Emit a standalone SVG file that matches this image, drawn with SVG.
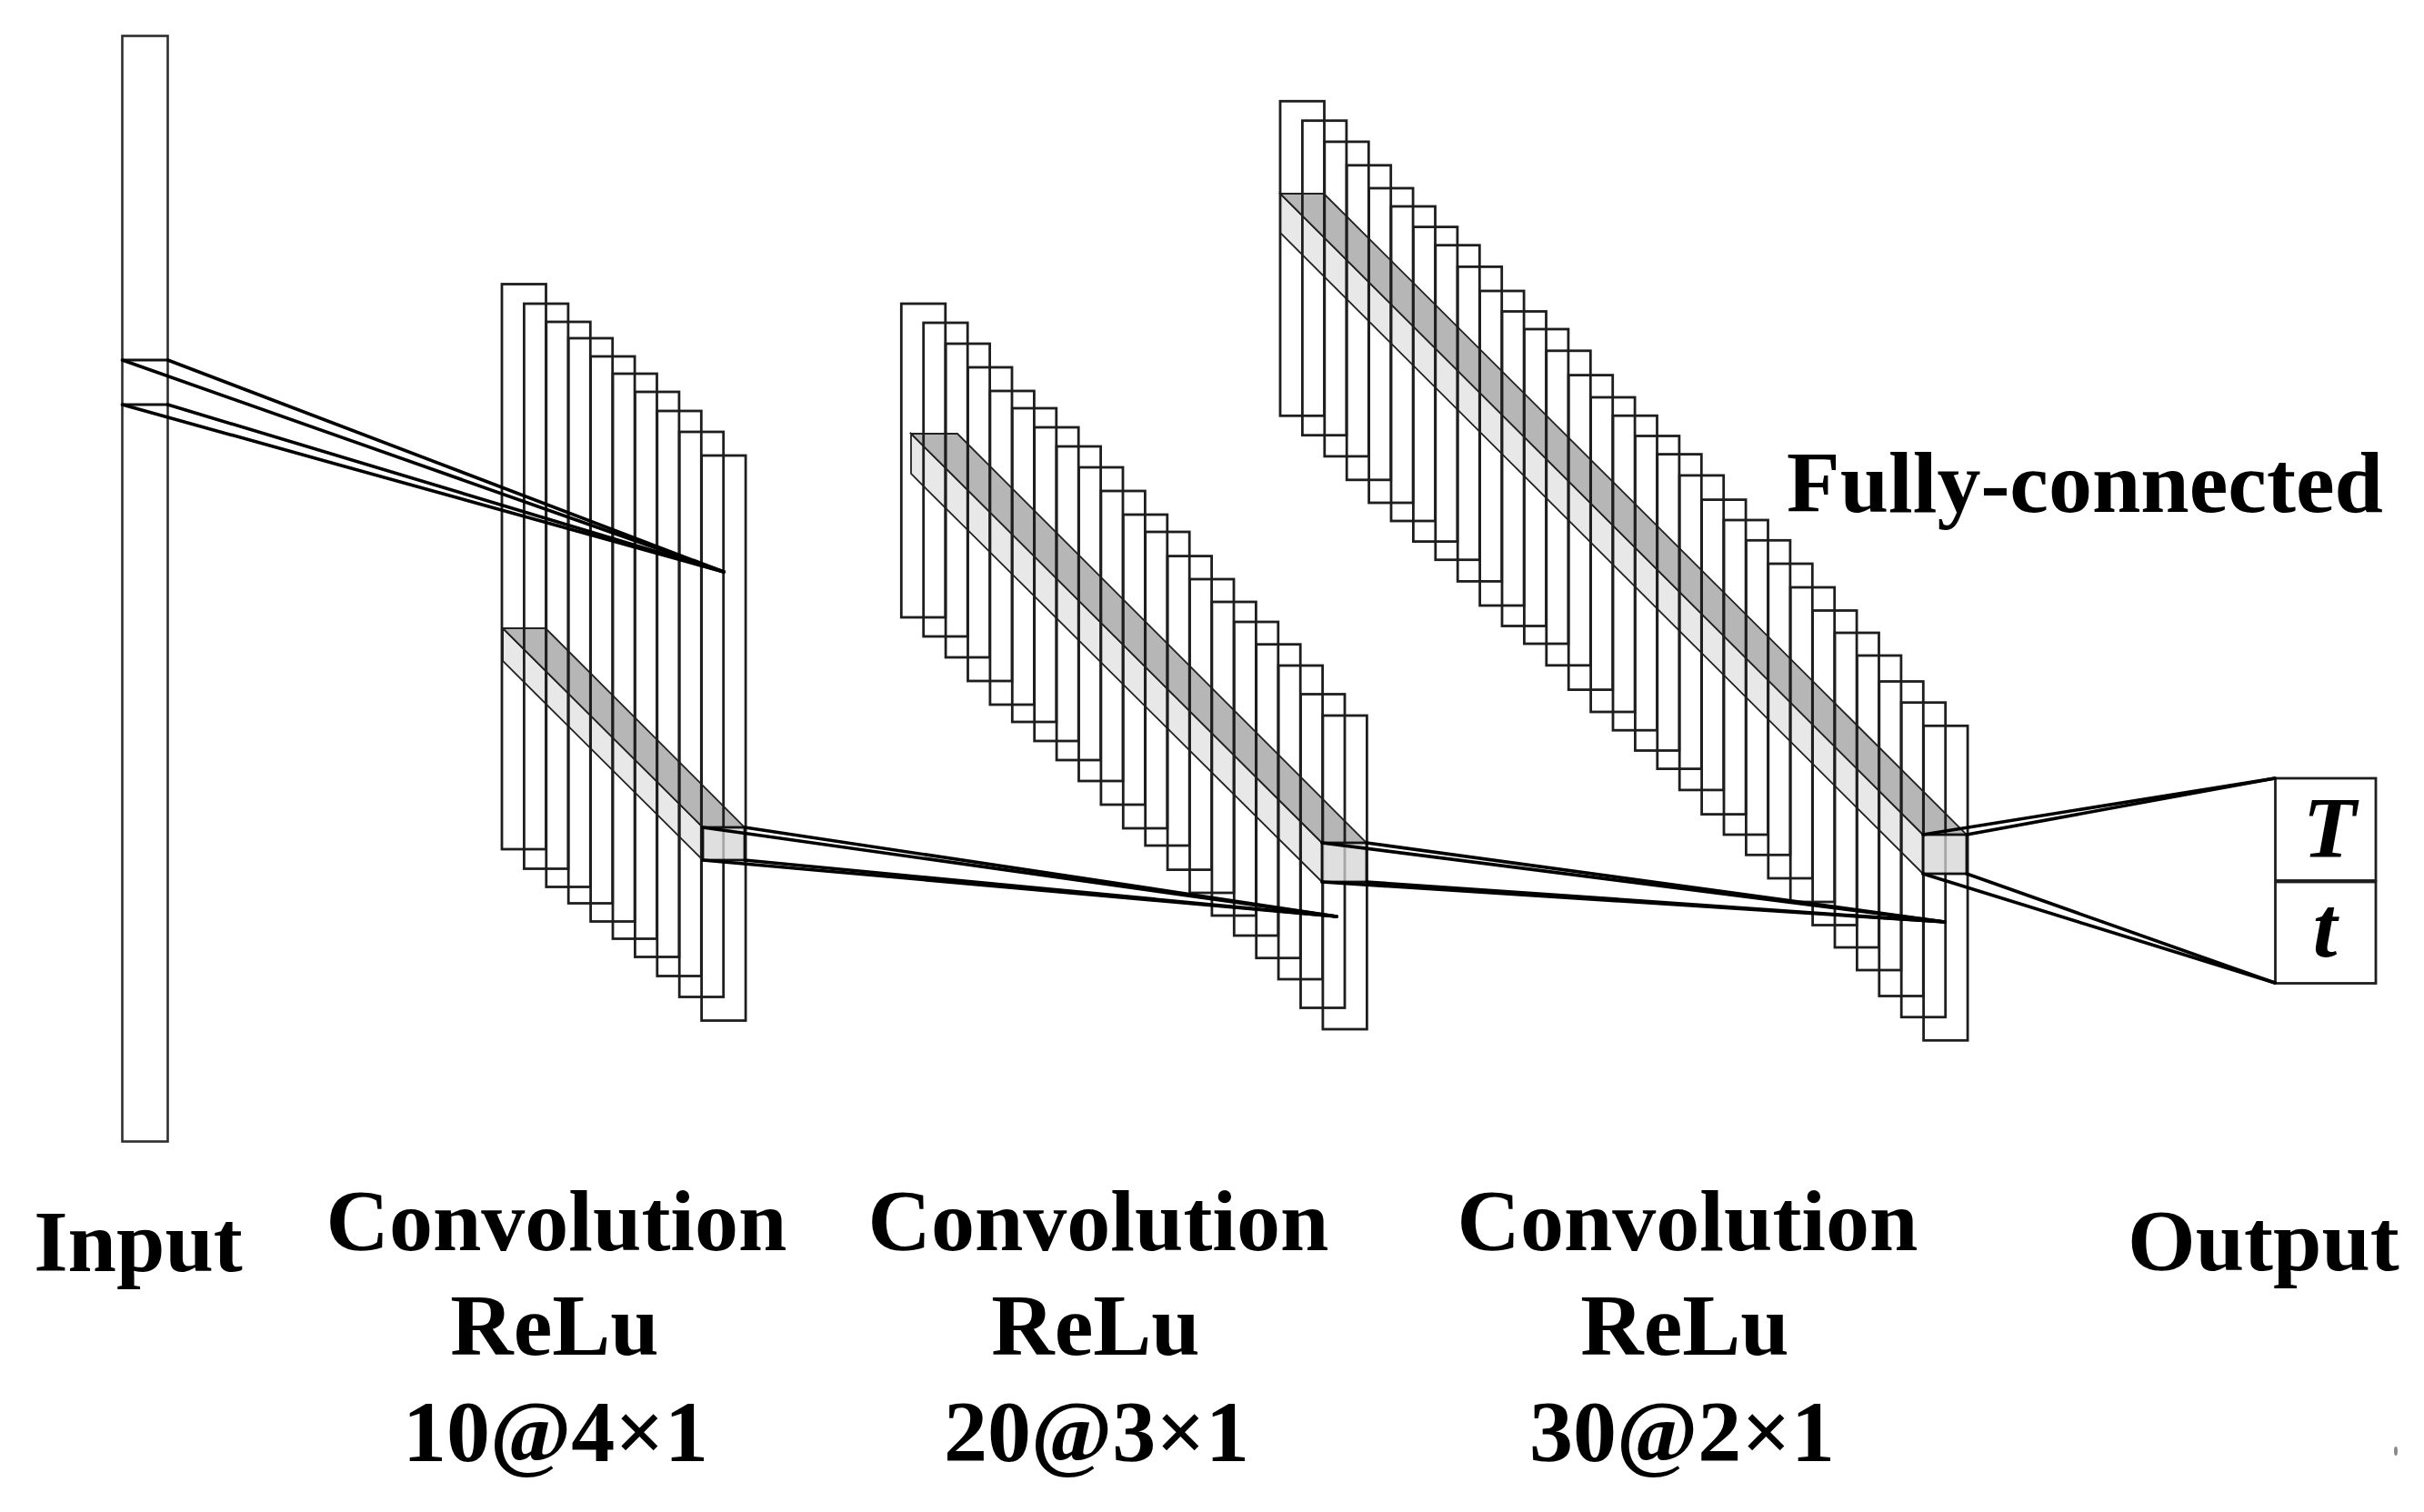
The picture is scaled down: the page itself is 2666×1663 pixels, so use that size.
<svg xmlns="http://www.w3.org/2000/svg" width="2666" height="1663" viewBox="0 0 2666 1663">
<style>
.bg{fill:#ffffff}
.fm rect{fill:none;stroke:#1e1e1e;stroke-width:2.8}
.col{fill:none;stroke:#2e2e2e;stroke-width:2.6}
.top{fill:#b6b6b6;stroke:#222;stroke-width:1.8}
.front{fill:#e8e8e8;stroke:#222;stroke-width:1.8}
.end{fill:#d4d4d4;stroke:#111;stroke-width:2.8}
.cn line{stroke:#000;stroke-width:3.6;stroke-linecap:round}
.lbl{font-family:"Liberation Serif","Times New Roman",serif;font-weight:bold;font-size:96px;fill:#000}
.it{font-family:"Liberation Serif","Times New Roman",serif;font-weight:bold;font-style:italic;font-size:96px;fill:#000}
.box{fill:#fff;stroke:#1e1e1e;stroke-width:2.8}
</style>
<rect class="bg" x="0" y="0" width="2666" height="1663"/>

<g id="input">
<rect class="col" x="134.5" y="39.5" width="50" height="1216"/>
<line x1="134.5" y1="396" x2="184.5" y2="396" stroke="#111" stroke-width="3"/>
<line x1="134.5" y1="445" x2="184.5" y2="445" stroke="#111" stroke-width="3"/>
</g>

<g id="conv1">
<polygon class="front" points="553,691 773,910 773,946 553,727"/>
<polygon class="top" points="553,691 600,691 819,910 773,910"/>
<g class="fm">
<rect x="552" y="312.5" width="48.5" height="621.5"/>
<rect x="576.4" y="334" width="48.5" height="621.5"/>
<rect x="600.8" y="354" width="48.5" height="621.5"/>
<rect x="625.2" y="372" width="48.5" height="621.5"/>
<rect x="649.6" y="392" width="48.5" height="621.5"/>
<rect x="674" y="411" width="48.5" height="621.5"/>
<rect x="698.4" y="431" width="48.5" height="621.5"/>
<rect x="722.8" y="452" width="48.5" height="621.5"/>
<rect x="747.2" y="475" width="48.5" height="621.5"/>
<rect x="771.6" y="501" width="48.5" height="621.5"/>
</g>
<rect class="end" x="773" y="910" width="46" height="36" fill-opacity="0.75"/>
</g>

<g id="conv2">
<polygon class="front" points="1002,477 1454,927 1454,970 1002,521"/>
<polygon class="top" points="1002,477 1053,477 1503,927 1454,927"/>
<g class="fm">
<rect x="991.3" y="334" width="48.5" height="345"/>
<rect x="1015.7" y="355" width="48.5" height="345"/>
<rect x="1040.1" y="378" width="48.5" height="345"/>
<rect x="1064.5" y="404" width="48.5" height="345"/>
<rect x="1088.9" y="430" width="48.5" height="345"/>
<rect x="1113.3" y="449" width="48.5" height="345"/>
<rect x="1137.7" y="470" width="48.5" height="345"/>
<rect x="1162.1" y="491" width="48.5" height="345"/>
<rect x="1186.5" y="514" width="48.5" height="345"/>
<rect x="1210.9" y="540" width="48.5" height="345"/>
<rect x="1235.3" y="566" width="48.5" height="345"/>
<rect x="1259.7" y="585" width="48.5" height="345"/>
<rect x="1284.1" y="611.6" width="48.5" height="345"/>
<rect x="1308.5" y="637" width="48.5" height="345"/>
<rect x="1332.9" y="662" width="48.5" height="345"/>
<rect x="1357.3" y="684" width="48.5" height="345"/>
<rect x="1381.7" y="708.7" width="48.5" height="345"/>
<rect x="1406.1" y="732" width="48.5" height="345"/>
<rect x="1430.5" y="763.5" width="48.5" height="345"/>
<rect x="1454.9" y="787" width="48.5" height="345"/>
</g>
<rect class="end" x="1454" y="927" width="49" height="43" fill-opacity="0.75"/>
</g>

<g id="conv3">
<polygon class="front" points="1408,213 2115,918 2115,961 1408,256"/>
<polygon class="top" points="1408,213 1456,213 2163,918 2115,918"/>
<g class="fm">
<rect x="1408" y="111.3" width="48.5" height="346"/>
<rect x="1432.4" y="132.7" width="48.5" height="346"/>
<rect x="1456.8" y="155.9" width="48.5" height="346"/>
<rect x="1481.2" y="181.8" width="48.5" height="346"/>
<rect x="1505.6" y="207" width="48.5" height="346"/>
<rect x="1530" y="227" width="48.5" height="346"/>
<rect x="1554.4" y="249.6" width="48.5" height="346"/>
<rect x="1578.8" y="269.7" width="48.5" height="346"/>
<rect x="1603.2" y="293.4" width="48.5" height="346"/>
<rect x="1627.6" y="320" width="48.5" height="346"/>
<rect x="1652" y="342.5" width="48.5" height="346"/>
<rect x="1676.4" y="362" width="48.5" height="346"/>
<rect x="1700.8" y="385.8" width="48.5" height="346"/>
<rect x="1725.2" y="412.6" width="48.5" height="346"/>
<rect x="1749.6" y="437" width="48.5" height="346"/>
<rect x="1774" y="457.2" width="48.5" height="346"/>
<rect x="1798.4" y="479.5" width="48.5" height="346"/>
<rect x="1822.8" y="499.6" width="48.5" height="346"/>
<rect x="1847.2" y="522.9" width="48.5" height="346"/>
<rect x="1871.6" y="549.6" width="48.5" height="346"/>
<rect x="1896" y="572" width="48.5" height="346"/>
<rect x="1920.4" y="594.3" width="48.5" height="346"/>
<rect x="1944.8" y="620" width="48.5" height="346"/>
<rect x="1969.2" y="646" width="48.5" height="346"/>
<rect x="1993.6" y="671.5" width="48.5" height="346"/>
<rect x="2018" y="696" width="48.5" height="346"/>
<rect x="2042.4" y="721" width="48.5" height="346"/>
<rect x="2066.8" y="749.5" width="48.5" height="346"/>
<rect x="2091.2" y="772.7" width="48.5" height="346"/>
<rect x="2115.6" y="798.3" width="48.5" height="346"/>
</g>
<rect class="end" x="2115" y="918" width="48" height="43" fill-opacity="0.75"/>
</g>

<g id="output">
<rect class="box" x="2502.5" y="856" width="110.5" height="112.5"/>
<rect class="box" x="2502.5" y="970" width="110.5" height="111.5"/>
<text class="it" x="2562" y="943" text-anchor="middle">T</text>
<text class="it" x="2557" y="1052" text-anchor="middle">t</text>
</g>

<g id="connectors" class="cn">
<line x1="134.5" y1="396" x2="796" y2="629"/>
<line x1="184.5" y1="396" x2="796" y2="629"/>
<line x1="134.5" y1="445" x2="796" y2="629"/>
<line x1="184.5" y1="445" x2="796" y2="629"/>
<line x1="773" y1="910" x2="1470" y2="1008"/>
<line x1="819" y1="910" x2="1470" y2="1008"/>
<line x1="773" y1="946" x2="1470" y2="1008"/>
<line x1="819" y1="946" x2="1470" y2="1008"/>
<line x1="1454" y1="927" x2="2139" y2="1014"/>
<line x1="1503" y1="927" x2="2139" y2="1014"/>
<line x1="1454" y1="970" x2="2139" y2="1014"/>
<line x1="1503" y1="970" x2="2139" y2="1014"/>
<line x1="2115" y1="918" x2="2502" y2="856"/>
<line x1="2163" y1="918" x2="2502" y2="856"/>
<line x1="2115" y1="961" x2="2502" y2="1081"/>
<line x1="2163" y1="961" x2="2502" y2="1081"/>
</g>

<g id="labels">
<text class="lbl" x="1965" y="563">Fully-connected</text>
<text class="lbl" x="152" y="1398" text-anchor="middle">Input</text>
<text class="lbl" x="612" y="1375" text-anchor="middle">Convolution</text>
<text class="lbl" x="610" y="1490" text-anchor="middle">ReLu</text>
<text class="lbl" x="611" y="1607" text-anchor="middle">10@4×1</text>
<text class="lbl" x="1208" y="1375" text-anchor="middle">Convolution</text>
<text class="lbl" x="1205" y="1490" text-anchor="middle">ReLu</text>
<text class="lbl" x="1206" y="1607" text-anchor="middle">20@3×1</text>
<text class="lbl" x="1856" y="1375" text-anchor="middle">Convolution</text>
<text class="lbl" x="1853" y="1490" text-anchor="middle">ReLu</text>
<text class="lbl" x="1850" y="1607" text-anchor="middle">30@2×1</text>
<text class="lbl" x="2340" y="1397">Output</text>
</g>
<ellipse cx="2635" cy="1596" rx="2" ry="5" fill="#888"/>
</svg>
